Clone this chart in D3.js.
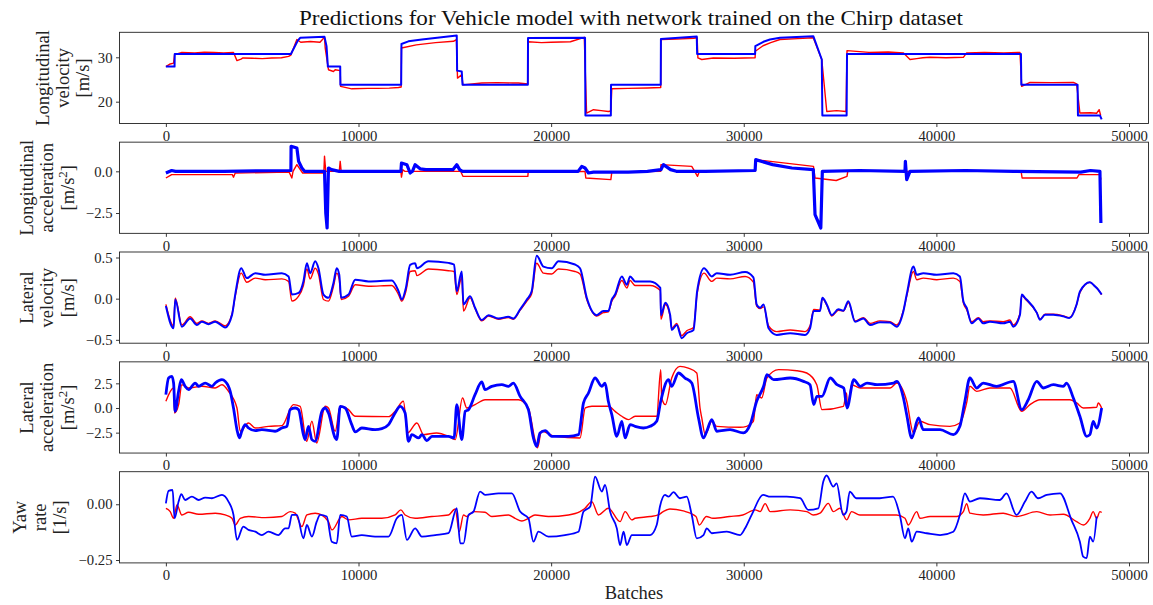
<!DOCTYPE html>
<html><head><meta charset="utf-8">
<script src="https://cdn.jsdelivr.net/npm/d3@7"></script>
<style>body{margin:0;background:#fff}</style>
</head><body>
<svg id="c" width="1153" height="605"></svg>
<script>
// ---------------- DATA ----------------
const titleText = "Predictions for Vehicle model with network trained on the Chirp dataset";
const xTicks = [0, 10000, 20000, 30000, 40000, 50000];
const xDomain = [-2408, 51012];

// Panel 1: Longitudinal velocity [m/s]
const lonVelRed = [[0,27.9],[225,28.5],[400,28.7],[450,30.6],[830,31.1],[1500,31.0],[2000,31.15],[2500,31.1],[3000,31.0],[3510,31.1],[3690,29.25],[3900,29.6],[4000,29.85],[4500,29.8],[5000,29.7],[5500,29.85],[6000,29.9],[6370,30.2],[6490,30.5],[6800,34.0],[7000,33.4],[7500,33.55],[8000,33.4],[8235,34.5],[8270,32.1],[8440,27.2],[8700,26.8],[8790,27.2],[9050,27.0],[9070,23.45],[9650,22.9],[10500,23.0],[11000,23.0],[11600,23.05],[12075,23.2],[12215,23.3],[12230,32.1],[13000,32.8],[14000,33.3],[14930,33.6],[15080,34.0],[15140,25.3],[15360,26.1],[15420,23.8],[16400,24.2],[17200,24.3],[18000,24.2],[18300,24.2],[18790,24.0],[18810,33.5],[19500,33.3],[20000,33.4],[21000,33.5],[21720,34.5],[21840,17.45],[22200,18.2],[22600,18.0],[22970,17.8],[23100,17.9],[23150,22.9],[24000,23.0],[25000,23.1],[25690,23.2],[25700,34.0],[26500,34.1],[27400,34.3],[27580,34.4],[27620,29.85],[27820,29.5],[28420,29.85],[29500,29.8],[30590,29.9],[30600,31.35],[31000,32.6],[31400,33.3],[31880,34.0],[32800,34.2],[33610,34.4],[34050,29.5],[34310,17.8],[34820,18.0],[35310,17.8],[35360,31.5],[36500,31.1],[37500,31.2],[38280,31.0],[38630,29.5],[38980,29.7],[39300,29.9],[39670,30.0],[40500,29.9],[41400,30.0],[41570,31.0],[42500,31.1],[43500,31.0],[44340,31.1],[44430,23.45],[44860,24.35],[46000,24.3],[47110,24.35],[47280,24.0],[47450,17.45],[48000,17.5],[48320,17.4],[48450,18.2],[48530,16.9]];
const lonVelBlue = [[0,27.9],[450,27.9],[460,30.75],[6490,30.75],[6850,33.75],[6970,34.4],[8235,34.6],[8340,32.5],[8410,27.9],[9050,27.9],[9060,23.83],[12215,23.83],[12230,33.0],[12590,33.6],[13290,34.0],[15100,34.9],[15120,27.0],[15360,26.8],[15400,23.83],[18790,23.83],[18800,34.36],[21760,34.4],[21780,16.9],[23100,16.9],[23110,23.83],[25690,23.83],[25700,34.1],[27560,34.7],[27580,30.75],[30590,30.75],[30600,32.5],[31020,33.5],[31360,34.0],[31880,34.4],[33610,34.75],[34050,29.5],[34080,16.9],[35340,16.9],[35360,30.75],[44390,30.75],[44410,23.83],[47330,23.83],[47350,16.9],[48490,16.9],[48580,16.0]];

// Panel 2: Longitudinal acceleration [m/s^2]
const lonAccRed = [[0,-0.4],[300,-0.2],[2000,-0.2],[3450,-0.2],[3510,-0.35],[3600,-0.1],[6400,-0.05],[6540,-0.4],[6600,0.0],[6800,0.4],[7100,-0.1],[8200,-0.1],[8235,0.9],[8300,0.0],[9000,0.0],[9050,0.6],[9100,0.0],[12200,0.0],[12230,-0.35],[12300,0.1],[12400,0.0],[15300,0.0],[15420,-0.3],[18790,-0.3],[18810,-0.05],[21760,0.0],[21800,-0.4],[23100,-0.5],[23150,-0.05],[25690,0.0],[25700,0.4],[27300,0.3],[27600,-0.3],[27700,0.0],[30590,0.0],[30620,0.7],[33620,0.3],[33700,-0.4],[34800,-0.55],[35360,-0.3],[35400,0.0],[44400,0.0],[44450,-0.4],[47300,-0.4],[47400,-0.2],[48490,-0.2],[48540,-0.5]];
const lonAccBlue = [[0,-0.1],[300,0.05],[500,0.0],[3000,0.0],[6490,0.05],[6500,1.5],[6800,1.4],[6890,0.6],[7060,0.2],[7200,0.0],[8000,0.0],[8235,0.0],[8300,-2.5],[8370,-3.4],[8440,0.2],[8600,0.1],[9000,0.0],[12200,0.0],[12230,0.5],[12510,0.4],[12680,-0.1],[12800,0.0],[12940,0.4],[13200,0.15],[13500,0.1],[14900,0.1],[15100,0.4],[15250,0.1],[15400,0.0],[18000,0.0],[21400,0.0],[21590,0.3],[21760,0.2],[21940,-0.1],[22200,-0.05],[24000,-0.05],[25000,0.0],[25700,0.1],[25830,0.4],[26200,0.1],[26500,0.0],[28000,0.0],[30590,0.05],[30620,0.7],[31500,0.4],[32500,0.2],[33610,0.1],[33700,-2.6],[34000,-3.4],[34080,0.0],[36000,0.05],[38370,0.0],[38390,0.6],[38460,-0.5],[38630,0.0],[41500,0.05],[44000,0.0],[47500,-0.05],[48000,0.05],[48490,0.0],[48540,-3.1]];

// Panel 3: Lateral velocity [m/s]
const latVelRed = [[0,-0.07],[400,-0.33],[485,0.01],[830,-0.32],[1260,-0.22],[1610,-0.3],[1870,-0.27],[2210,-0.3],[2560,-0.27],[3080,-0.33],[3430,-0.19],[3600,0.03],[3910,0.31],[4200,0.2],[4640,0.25],[5160,0.23],[6020,0.24],[6370,0.21],[6540,-0.03],[6890,0.03],[7140,0.16],[7320,0.36],[7490,0.24],[7750,0.37],[7920,0.3],[8180,-0.01],[8440,-0.03],[8700,0.15],[8870,0.31],[9000,0.23],[9100,-0.01],[9480,0.03],[9830,0.17],[10520,0.15],[11730,0.16],[12080,0.05],[12250,-0.03],[12460,0.09],[12680,0.33],[12940,0.34],[13030,0.28],[13630,0.36],[14670,0.34],[14960,0.33],[15100,0.05],[15360,0.26],[15450,-0.15],[15790,0.01],[16050,-0.12],[16400,-0.27],[16750,-0.21],[17270,-0.25],[17780,-0.23],[18040,-0.25],[18390,-0.14],[18740,-0.03],[18990,0.06],[19250,0.43],[19600,0.31],[20030,0.3],[20380,0.36],[21240,0.33],[21500,0.3],[21850,-0.01],[22370,-0.21],[22710,-0.17],[22970,-0.16],[23150,-0.03],[23320,0.03],[23670,0.22],[23930,0.13],[24100,0.22],[24360,0.16],[25140,0.16],[25670,0.1],[25700,-0.25],[25930,-0.07],[26180,-0.22],[26260,-0.36],[26520,-0.3],[26780,-0.45],[27040,-0.39],[27390,-0.35],[27580,0.06],[27940,0.31],[28340,0.21],[28600,0.25],[29290,0.24],[30070,0.27],[30500,0.2],[30670,-0.09],[30850,-0.12],[31030,-0.1],[31290,-0.33],[31710,-0.4],[32410,-0.38],[33180,-0.4],[33440,-0.33],[33630,-0.13],[33960,-0.14],[34080,0.0],[34310,-0.08],[34570,-0.21],[34910,-0.14],[35170,-0.15],[35430,-0.05],[35780,-0.27],[36210,-0.23],[36560,-0.3],[37070,-0.27],[37590,-0.28],[37940,-0.32],[38290,-0.14],[38460,0.03],[38810,0.33],[38980,0.23],[39320,0.25],[40020,0.23],[40880,0.25],[41220,0.21],[41400,-0.05],[41570,-0.13],[41830,-0.28],[42180,-0.23],[42430,-0.28],[42780,-0.27],[43470,-0.28],[43820,-0.26],[43990,-0.32],[44340,-0.18],[44430,0.04],[44600,0.0],[45210,-0.17],[45380,-0.25],[45640,-0.19],[46070,-0.19],[46590,-0.21],[46900,-0.23],[47280,-0.07],[47460,0.08],[47970,0.2],[48230,0.15],[48400,0.11],[48580,0.05]];
const latVelBlue = [[0,-0.09],[400,-0.36],[485,-0.01],[830,-0.34],[1260,-0.24],[1610,-0.32],[1870,-0.28],[2210,-0.31],[2560,-0.28],[3080,-0.35],[3430,-0.2],[3600,0.05],[3910,0.37],[4200,0.25],[4640,0.31],[5160,0.29],[6020,0.31],[6370,0.27],[6540,0.05],[6890,0.07],[7140,0.21],[7320,0.43],[7490,0.31],[7750,0.455],[7920,0.37],[8180,0.05],[8440,0.01],[8700,0.19],[8870,0.37],[9000,0.29],[9100,0.01],[9480,0.05],[9830,0.23],[10520,0.21],[11730,0.22],[12080,0.09],[12250,-0.01],[12460,0.13],[12680,0.41],[12940,0.43],[13030,0.37],[13630,0.455],[14670,0.435],[14960,0.415],[15100,0.09],[15360,0.33],[15450,-0.07],[15790,0.03],[16050,-0.11],[16400,-0.26],[16750,-0.2],[17270,-0.24],[17780,-0.22],[18040,-0.24],[18390,-0.13],[18740,-0.01],[18990,0.09],[19250,0.52],[19600,0.39],[20030,0.37],[20380,0.455],[21240,0.415],[21500,0.37],[21850,0.01],[22370,-0.2],[22710,-0.15],[22970,-0.15],[23150,-0.01],[23320,0.05],[23670,0.27],[23930,0.17],[24100,0.27],[24360,0.21],[25140,0.21],[25670,0.13],[25700,-0.2],[25930,-0.05],[26180,-0.2],[26260,-0.38],[26520,-0.32],[26780,-0.48],[27040,-0.42],[27390,-0.38],[27580,0.09],[27940,0.37],[28340,0.27],[28600,0.31],[29290,0.29],[30070,0.325],[30500,0.26],[30670,-0.07],[30850,-0.11],[31030,-0.07],[31290,-0.36],[31710,-0.44],[32410,-0.42],[33180,-0.44],[33440,-0.36],[33630,-0.15],[33960,-0.15],[34080,0.01],[34310,-0.07],[34570,-0.2],[34910,-0.13],[35170,-0.146],[35430,-0.03],[35780,-0.28],[36210,-0.24],[36560,-0.32],[37070,-0.285],[37590,-0.29],[37940,-0.34],[38290,-0.15],[38460,0.05],[38810,0.39],[38980,0.29],[39320,0.31],[40020,0.29],[40880,0.31],[41220,0.27],[41400,-0.03],[41570,-0.11],[41830,-0.3],[42180,-0.24],[42430,-0.3],[42780,-0.28],[43470,-0.3],[43820,-0.28],[43990,-0.34],[44340,-0.195],[44430,0.05],[44600,0.01],[45210,-0.17],[45380,-0.256],[45640,-0.195],[46070,-0.195],[46590,-0.215],[46900,-0.236],[47280,-0.07],[47460,0.09],[47970,0.2],[48230,0.15],[48400,0.11],[48580,0.05]];

// Panel 4: Lateral acceleration [m/s^2]
const latAccRed = [[0,0.68],[400,2.03],[450,-0.51],[660,0.34],[830,2.36],[1180,2.03],[1870,2.2],[2560,2.03],[2910,2.36],[3250,1.69],[3690,0],[3860,-2.36],[4290,-1.52],[4640,-2.03],[5330,-1.86],[6020,-1.79],[6620,0.34],[6970,0.17],[7310,-3.38],[7580,-1.35],[7830,-3.55],[8270,0.17],[8440,0],[8790,-2.36],[9050,0.17],[9480,-0.17],[9830,-0.84],[11560,-0.88],[11900,-0.34],[12330,0.68],[12550,-2.53],[13030,-1.52],[13380,-2.7],[14050,-2.53],[14670,-2.87],[15020,-3.21],[15400,1.01],[15620,0],[16050,0.34],[16570,0.84],[18300,0.84],[18820,0],[19160,-3.21],[19290,-4.05],[19500,-2.36],[20200,-2.87],[21500,-3.04],[21770,0],[22120,0.17],[22970,0.17],[23320,-0.34],[23670,-0.84],[24010,-1.18],[24360,-0.84],[25480,-0.84],[25690,3.89],[25740,1.01],[25930,0.34],[26260,3.04],[26690,4.22],[27120,4.05],[27560,3.55],[27730,0],[27820,-1.01],[28000,-2.7],[28340,-1.35],[28600,-1.86],[29810,-1.96],[30150,-1.86],[30500,-1.35],[30670,1.35],[30930,1.01],[31200,3.04],[31810,3.89],[32760,3.78],[33270,3.55],[33790,2.36],[34060,-0.17],[35170,0.17],[35340,1.52],[35380,0],[35600,2.36],[36050,2.03],[37600,2.03],[37950,2.53],[38460,0.68],[38810,-2.53],[39150,-1.35],[39670,-1.69],[40700,-1.86],[41220,-1.52],[41570,0.51],[41740,2.2],[42090,1.69],[42780,2.03],[43820,2.03],[44430,-0.34],[44860,0.34],[45380,0.84],[46930,0.84],[47280,0.51],[47630,0],[48320,0.07],[48400,0.51],[48580,0]];
const latAccBlue = [[0,1.35],[140,3.04],[310,3.21],[400,2.53],[480,-0.34],[660,1.69],[800,2.87],[1000,2.2],[1180,1.86],[1520,2.53],[1700,2.2],[2040,2.53],[2390,2.2],[2560,2.53],[2910,2.87],[3080,2.7],[3340,1.69],[3510,0],[3690,-2.2],[3820,-3.04],[3940,-2.36],[4120,-1.69],[4290,-2.03],[4640,-2.3],[4980,-2.2],[5670,-2.36],[6020,-2.03],[6280,-1.86],[6450,-0.17],[6710,0],[6890,-0.17],[7140,-2.7],[7230,-3.21],[7400,-1.86],[7580,-3.21],[7750,-3.38],[8100,-0.34],[8270,0],[8440,-0.51],[8790,-3.04],[8870,-3.21],[9050,0.17],[9310,0],[9650,-1.69],[9830,-2.43],[10170,-2.03],[10860,-2.2],[11210,-2.1],[11560,-1.69],[11900,-0.51],[12160,0.17],[12420,-0.51],[12590,-3.38],[12770,-2.7],[13130,-3.04],[13290,-2.7],[13550,-3.31],[13810,-2.87],[14670,-2.87],[14960,-3.04],[15100,0.34],[15360,-3.21],[15540,-0.34],[15710,-0.17],[16050,1.35],[16400,2.64],[16570,1.86],[16920,2.2],[17440,2.36],[17780,2.2],[18040,2.53],[18390,1.18],[18820,-0.17],[19080,-3.04],[19250,-3.89],[19420,-2.53],[19690,-2.3],[20030,-2.87],[20900,-2.87],[21420,-2.7],[21680,0.51],[21940,1.52],[22280,3.04],[22630,2.2],[22800,2.53],[22970,0.68],[23150,-0.68],[23410,-2.87],[23670,-1.35],[23840,-3.04],[24100,-1.69],[24360,-1.86],[24790,-2.03],[25140,-1.86],[25480,-1.35],[25690,0.68],[26090,2.87],[26260,2.2],[26610,3.55],[26950,3.04],[27300,2.53],[27650,-1.01],[27910,-3.04],[28080,-2.36],[28340,-1.18],[28600,-2.36],[29290,-2.2],[29980,-2.53],[30330,-1.69],[30670,0.68],[31030,2.2],[31200,3.38],[31550,2.87],[32410,3.04],[33100,2.7],[33440,2.36],[33630,0.34],[33800,1.18],[34060,1.18],[34490,3.04],[34840,2.36],[35190,2.03],[35360,0],[35710,2.87],[36050,2.2],[36400,2.53],[36920,2.36],[37780,2.53],[37950,2.7],[38290,1.01],[38460,-0.68],[38720,-3.04],[39070,-1.01],[39320,-2.2],[40190,-2.2],[40880,-2.7],[41220,-1.86],[41480,0.68],[41740,3.04],[42090,2.03],[42430,2.53],[43120,2.2],[43990,2.7],[44430,-0.17],[44770,0.84],[45210,2.7],[45560,2.03],[46070,2.36],[46590,2.2],[46760,2.53],[47110,1.01],[47450,-0.84],[47800,-2.87],[47970,-2.7],[48140,-1.35],[48320,-2.03],[48580,0]];

// Panel 5: Yaw rate [1/s]
const yawRed = [[0,-0.018],[225,-0.033],[400,-0.063],[575,-0.003],[830,-0.048],[1180,-0.036],[1700,-0.045],[2560,-0.04],[3080,-0.048],[3430,-0.063],[3600,-0.093],[3860,-0.063],[4290,-0.055],[5160,-0.06],[6020,-0.055],[6450,-0.033],[6710,-0.04],[7060,-0.1],[7320,-0.048],[7750,-0.04],[8090,-0.048],[8440,-0.078],[8620,-0.115],[9140,-0.055],[9480,-0.07],[10170,-0.063],[11210,-0.063],[11900,-0.048],[12200,-0.025],[12420,-0.048],[12940,-0.063],[13810,-0.055],[14670,-0.048],[15020,-0.021],[15230,-0.123],[15450,-0.048],[15620,-0.055],[15970,-0.033],[16570,-0.036],[16920,-0.055],[17780,-0.048],[18130,-0.063],[18480,-0.075],[18820,-0.063],[19160,-0.048],[19860,-0.055],[20900,-0.048],[21500,-0.033],[21760,-0.018],[22110,0.012],[22460,-0.048],[22970,-0.018],[23580,-0.078],[23840,-0.033],[24190,-0.07],[24360,-0.063],[25140,-0.055],[25560,-0.048],[25820,-0.033],[26170,-0.021],[26860,-0.03],[27520,-0.055],[27690,-0.093],[28060,-0.055],[28400,-0.063],[29260,-0.055],[29950,-0.048],[30590,-0.025],[30850,-0.033],[31110,0.003],[31370,-0.033],[32410,-0.025],[33270,-0.033],[33610,-0.048],[33960,-0.04],[34390,0.004],[34650,-0.033],[34990,-0.018],[35340,-0.07],[35600,-0.033],[36030,-0.048],[36900,-0.048],[37940,-0.048],[38370,-0.063],[38540,-0.093],[38980,-0.033],[39150,-0.063],[39670,-0.055],[41050,-0.055],[41400,-0.033],[41570,0.003],[41740,-0.04],[42430,-0.048],[43470,-0.04],[44160,-0.055],[45210,-0.033],[45900,-0.048],[46590,-0.045],[47280,-0.078],[47630,-0.093],[47970,-0.063],[48140,-0.033],[48320,-0.063],[48490,-0.033],[48580,-0.037]];
const yawBlue = [[0,0.004],[140,0.06],[350,0.064],[450,-0.063],[660,0.012],[800,0.045],[1000,0.019],[1350,0.034],[1700,0.019],[2040,0.03],[2390,0.027],[2910,0.042],[3250,0.012],[3510,-0.048],[3690,-0.16],[4020,-0.1],[4290,-0.115],[4640,-0.123],[4980,-0.138],[5330,-0.123],[5840,-0.138],[6190,-0.108],[6370,-0.108],[6540,-0.048],[6800,-0.048],[7140,-0.153],[7320,-0.093],[7580,-0.145],[7830,-0.078],[8010,-0.048],[8350,-0.055],[8610,-0.168],[8870,-0.175],[9050,-0.048],[9390,-0.055],[9650,-0.145],[10170,-0.138],[10860,-0.145],[11560,-0.145],[11990,-0.063],[12250,-0.048],[12510,-0.16],[12940,-0.108],[13290,-0.145],[13980,-0.138],[14670,-0.13],[15100,-0.018],[15280,-0.175],[15450,-0.175],[15710,-0.048],[15970,-0.033],[16310,0.057],[16570,0.042],[17270,0.049],[17960,0.049],[18390,-0.033],[18820,-0.063],[19080,-0.168],[19340,-0.123],[19860,-0.145],[20720,-0.138],[21420,-0.123],[21680,-0.033],[22030,-0.01],[22280,0.124],[22630,0.057],[22800,0.087],[23060,-0.033],[23410,-0.108],[23580,-0.183],[23760,-0.123],[23930,-0.183],[24190,-0.138],[24790,-0.138],[25140,-0.138],[25480,-0.093],[25650,-0.01],[25910,0.042],[26090,0.034],[26350,0.054],[26690,0.027],[27040,0.034],[27300,-0.048],[27560,-0.153],[27910,-0.138],[28080,-0.108],[28340,-0.13],[29120,-0.123],[29810,-0.138],[30070,-0.108],[30410,-0.048],[31000,0.042],[31380,0.034],[32230,0.034],[32930,0.027],[33350,-0.025],[33870,-0.018],[34130,0.102],[34300,0.129],[34650,0.079],[34820,0.094],[35160,-0.048],[35330,-0.033],[35500,0.057],[35850,0.027],[36200,0.027],[37060,0.027],[37750,0.034],[38100,-0.048],[38370,-0.153],[38540,-0.108],[38720,-0.168],[38980,-0.123],[39500,-0.13],[40190,-0.138],[40880,-0.123],[41220,-0.048],[41480,0.049],[41740,0.012],[42260,0.027],[43290,0.019],[43640,0.049],[44160,-0.048],[44600,0.012],[44940,0.057],[45280,0.027],[45730,0.042],[46420,0.049],[47010,-0.07],[47450,-0.168],[47620,-0.235],[47800,-0.242],[47970,-0.145],[48140,-0.168],[48320,-0.055]];

const panelLabels = [["Longitudinal","velocity","[m/s]"],["Longitudinal","acceleration","[m/s²]"],["Lateral","velocity","[m/s]"],["Lateral","acceleration","[m/s²]"],["Yaw","rate","[1/s]"]];
const yTicks = [[20,30],[-2.5,0.0],[-0.5,0.0,0.5],[-2.5,0.0,2.5],[-0.25,0.00]];
const yTickFmt = [".0f",".1f",".1f",".1f",".2f"];
const yDomains = [[15.09,35.63],[-3.72,1.75],[-0.541,0.567],[-4.57,4.68],[-0.263,0.146]];
const redSeries = [lonVelRed, lonAccRed, latVelRed, latAccRed, yawRed];
const blueSeries = [lonVelBlue, lonAccBlue, latVelBlue, latAccBlue, yawBlue];

// ---------------- LAYOUT ----------------
const svg = d3.select("#c");
const FONT = "'Liberation Serif','DejaVu Serif',serif";
const L = 119.5, R = 1148.5, TOP0 = 32.3, PITCH = 109.85, H = 91.2;
const labelCols = [[49,69,89],[33,53,74],[33,53,74],[33,53,74],[26,46,66]];
const blueW = [2.0, 3.2, 2.0, 2.8, 1.8];
const curves = [d3.curveLinear, d3.curveLinear, d3.curveMonotoneX, d3.curveMonotoneX, d3.curveMonotoneX];
const x = d3.scaleLinear().domain(xDomain).range([L, R]);

svg.append("text").attr("x", 631).attr("y", 25).attr("text-anchor","middle")
  .attr("font-family", FONT).attr("font-size", 22).attr("fill","#111")
  .attr("textLength", 664).attr("lengthAdjust","spacingAndGlyphs").text(titleText);

const fmtMinus = f => v => { const s = d3.format(f)(Math.abs(v)); return v < 0 ? "\u2212" + s : s; };

for (let i = 0; i < 5; i++) {
  const top = TOP0 + i * PITCH, bot = top + H;
  const y = d3.scaleLinear().domain(yDomains[i]).range([bot, top]);
  const g = svg.append("g");
  const clipId = "clip" + i;
  svg.append("clipPath").attr("id", clipId).append("rect").attr("x", L).attr("y", top).attr("width", R - L).attr("height", H);
  const line = d3.line().curve(curves[i]).x(d => x(d[0])).y(d => y(d[1]));
  g.append("path").datum(redSeries[i]).attr("d", line).attr("fill","none").attr("stroke","#ff0000")
    .attr("stroke-width", 1.4).attr("stroke-linejoin","round").attr("clip-path", `url(#${clipId})`);
  g.append("path").datum(blueSeries[i]).attr("d", line).attr("fill","none").attr("stroke","#0000ff")
    .attr("stroke-width", blueW[i]).attr("stroke-linejoin","round").attr("clip-path", `url(#${clipId})`);

  const xa = svg.append("g").attr("transform", `translate(0,${bot})`)
    .call(d3.axisBottom(x).tickValues(xTicks).tickFormat(d3.format("d")).tickSize(3.5).tickPadding(3.5));
  const ya = svg.append("g").attr("transform", `translate(${L},0)`)
    .call(d3.axisLeft(y).tickValues(yTicks[i]).tickFormat(fmtMinus(yTickFmt[i])).tickSize(3.5).tickPadding(3.5));
  [xa, ya].forEach(a => {
    a.select(".domain").remove();
    a.selectAll(".tick line").attr("stroke","#222").attr("stroke-width",0.9);
    a.selectAll(".tick text").attr("font-family", FONT).attr("font-size", 14.7).attr("fill","#222");
  });
  svg.append("rect").attr("x", L).attr("y", top).attr("width", R - L).attr("height", H)
    .attr("fill","none").attr("stroke","#222").attr("stroke-width",0.9);

  const cy = top + H / 2;
  panelLabels[i].forEach((t, j) => {
    const tx = svg.append("text").attr("transform", `translate(${labelCols[i][j]},${cy}) rotate(-90)`)
      .attr("text-anchor","middle").attr("font-family", FONT).attr("font-size", 18.5).attr("fill","#222");
    if (t.endsWith("²]")) {
      tx.append("tspan").text(t.slice(0, -2));
      tx.append("tspan").attr("dy", -7).attr("font-size", 13).text("2");
      tx.append("tspan").attr("dy", 7).text("]");
    } else tx.text(t);
  });
}

svg.append("text").attr("x", 634).attr("y", 599).attr("text-anchor","middle")
  .attr("font-family", FONT).attr("font-size", 18.5).attr("fill","#222").text("Batches");
</script>
</body></html>
